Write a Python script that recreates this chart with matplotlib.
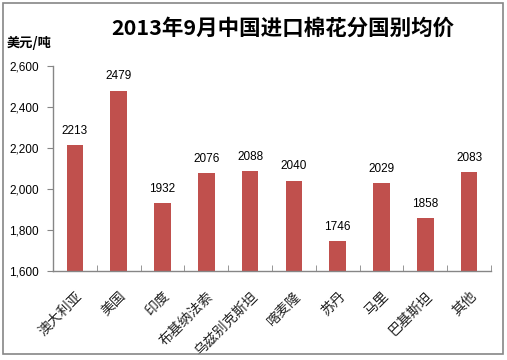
import matplotlib
matplotlib.use("Agg")
import matplotlib.pyplot as plt
from matplotlib.patches import Rectangle

plt.rcParams['font.family'] = ['Noto Sans CJK SC', 'DejaVu Sans']

categories = ["澳大利亚", "美国", "印度", "布基纳法索", "乌兹别克斯坦", "喀麦隆", "苏丹", "马里", "巴基斯坦", "其他"]
values = [2213, 2479, 1932, 2076, 2088, 2040, 1746, 2029, 1858, 2083]
yticks = [1600, 1800, 2000, 2200, 2400, 2600]
ytick_labels = ["1,600", "1,800", "2,000", "2,200", "2,400", "2,600"]
title = "2013年9月中国进口棉花分国别均价"
unit = "美元/吨"

W, H = 507, 360
fig = plt.figure(figsize=(W / 100, H / 100), dpi=100)
ax = fig.add_axes([53 / W, 1 - 271 / H, (491 - 53) / W, (271 - 66) / H])

x = list(range(len(categories)))
bars = ax.bar(x, values, width=0.375, color="#C0504D", zorder=2)
for xi, v in zip(x, values):
    ax.annotate(str(v), (xi, v), xytext=(0, 6), textcoords="offset points",
                ha="center", va="bottom", fontsize=8.5, family=['Liberation Sans', 'DejaVu Sans'])

ax.set_ylim(1600, 2600)
ax.set_xlim(-0.5, len(categories) - 0.5)
ax.set_yticks(yticks)
ax.set_yticklabels(ytick_labels, fontsize=8.5, family=['Liberation Sans', 'DejaVu Sans'])
ax.set_xticks(x)
ax.set_xticklabels(categories, rotation=45, ha="right", rotation_mode="anchor", fontsize=10,
                   color="#222222")
ax.tick_params(axis="x", which="major", length=0, pad=13)
ax.set_xticks([i - 0.5 for i in range(len(categories) + 1)], minor=True)
ax.tick_params(axis="x", which="minor", direction="in", length=4, color="#868686")
ax.tick_params(axis="y", direction="out", length=4, color="#868686", pad=6)

for s in ["top", "right"]:
    ax.spines[s].set_visible(False)
for s in ["left", "bottom"]:
    ax.spines[s].set_color("#868686")
    ax.spines[s].set_linewidth(1.0)

fig.text(283 / W, 1 - 28 / H, title, ha="center", va="center", fontsize=15.5, fontweight="bold")
fig.text(7 / W, 1 - 43 / H, unit, ha="left", va="center", fontsize=9.5, fontweight="bold")

fig.patches.append(Rectangle((3 / W, 1 - 354 / H), 500 / W, 351 / H, transform=fig.transFigure,
                             fill=False, edgecolor="#868686", linewidth=1.2))

fig.savefig("out.png", dpi=100)
